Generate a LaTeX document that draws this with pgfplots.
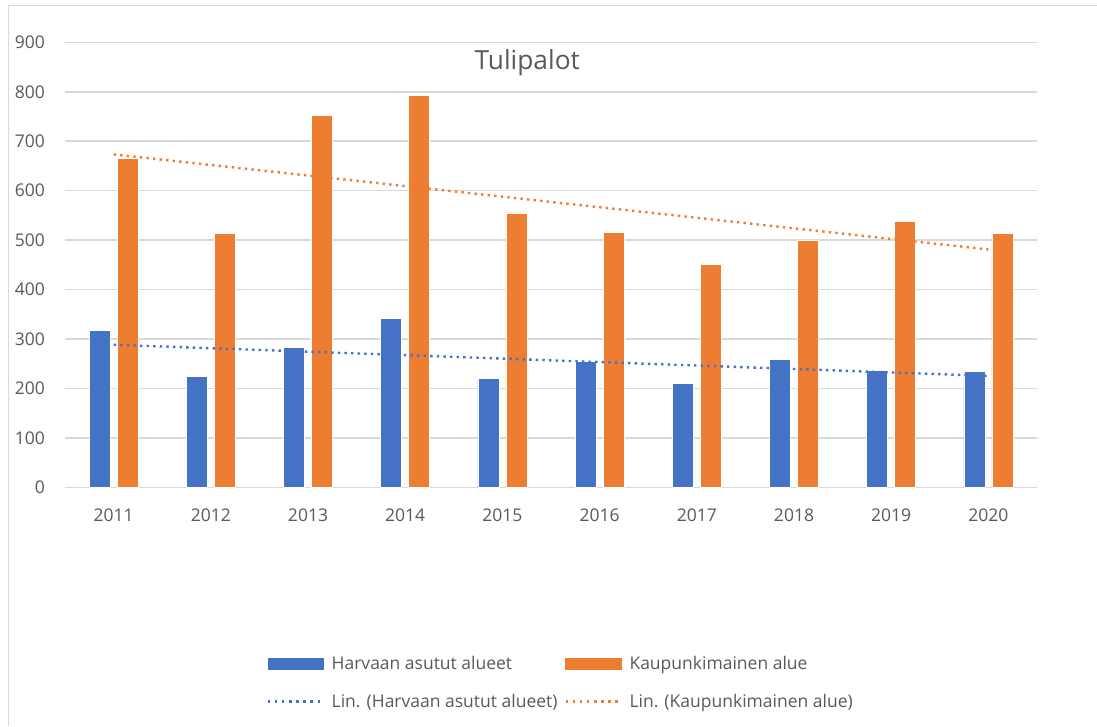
\documentclass[border=0pt]{standalone}
\usepackage{fontspec}
\setmainfont{Open Sans}
\usepackage{pgfplots}
\usepackage{pgfplotstable}
\pgfplotsset{compat=1.18}
\definecolor{xlblue}{HTML}{4472C4}
\definecolor{xlorange}{HTML}{ED7D31}
\definecolor{gridgray}{HTML}{D9D9D9}
\definecolor{txtgray}{HTML}{595959}

% Tulipalot: harvaan asutut alueet / kaupunkimainen alue, 2011-2020
\pgfplotstableread{
x harv kaup
0 317 666
1 225 514
2 282 752
3 341 792
4 220 555
5 254 516
6 210 450
7 258 500
8 236 538
9 234 514
}\datatable

\newcommand{\lblfont}{\fontsize{17.5}{21}\selectfont}

\begin{document}
\begin{tikzpicture}
\path[use as bounding box] (0pt,0pt) rectangle (1097pt,726pt);
% chart area frame
\draw[gridgray, line width=1.5pt] (8.5pt,0pt) -- (8.5pt,720.5pt) -- (1097pt,720.5pt);
\begin{axis}[
  at={(65pt,238.7pt)}, anchor=south west,
  scale only axis, width=972pt, height=445pt,
  xmin=-0.5, xmax=9.5, ymin=0, ymax=900,
  xtick={0,...,9},
  xticklabels={2011,2012,2013,2014,2015,2016,2017,2018,2019,2020},
  ytick={0,100,...,900},
  ymajorgrids,
  major grid style={gridgray, line width=1.5pt},
  axis line style={draw=none},
  tick style={draw=none},
  /pgf/number format/assume math mode=true,
  ticklabel style={font=\lblfont, text=txtgray, inner sep=0pt},
  yticklabel style={xshift=-20pt},
  xticklabel style={yshift=-21pt},
  title={Tulipalot},
  title style={at={(axis description cs:0.4756,0.9265)}, anchor=base,
    font=\fontsize{26.3}{31}\selectfont, text=txtgray, inner sep=0pt},
  legend columns=2,
  legend style={at={(axis description cs:0.2075,-0.3813)}, anchor=north west,
    draw=none, fill=none, inner sep=0pt, outer sep=0pt,
    row sep=21pt, column sep=0pt,
    nodes={inner sep=0pt, text height=13pt, text depth=4pt, font=\lblfont, text=txtgray},
    /tikz/every even column/.append style={column sep=7pt}},
  legend cell align=left,
  trend/.style={line width=2.4pt, line cap=butt, dash pattern=on 2.4pt off 4.2pt},
]
\addplot[ybar, bar width=21pt, bar shift=-14pt, fill=xlblue, draw=white, line width=0.75pt,
  legend image code/.code={\fill[xlblue] (0pt,-3.55pt) rectangle (55.6pt,7.15pt);
    \path (62.6pt,0pt);}]
  table[x=x, y=harv] {\datatable};
\addlegendentry{Harvaan asutut alueet}
\addplot[ybar, bar width=21pt, bar shift=14pt, fill=xlorange, draw=white, line width=0.75pt,
  legend image code/.code={\fill[xlorange] (0pt,-3.55pt) rectangle (55.6pt,7.15pt);
    \path (62.6pt,0pt);}]
  table[x=x, y=kaup] {\datatable};
\addlegendentry{Kaupunkimainen alue}
% linear trend lines
\addplot[xlblue, trend,
  legend image code/.code={\draw[xlblue, line width=2.4pt, dash pattern=on 2.4pt off 4.7pt] (0pt,1.8pt) -- (52pt,1.8pt);
    \path (62.6pt,0pt);}]
  coordinates {(0,288.3) (9,225.3)};
\addlegendentry{Lin. (Harvaan asutut alueet)}
\addplot[xlorange, trend,
  legend image code/.code={\draw[xlorange, line width=2.4pt, dash pattern=on 2.4pt off 4.7pt] (0pt,1.8pt) -- (52pt,1.8pt);
    \path (62.6pt,0pt);}]
  coordinates {(0,673.3) (9,481)};
\addlegendentry{Lin. (Kaupunkimainen alue)}
\end{axis}
\end{tikzpicture}
\end{document}
